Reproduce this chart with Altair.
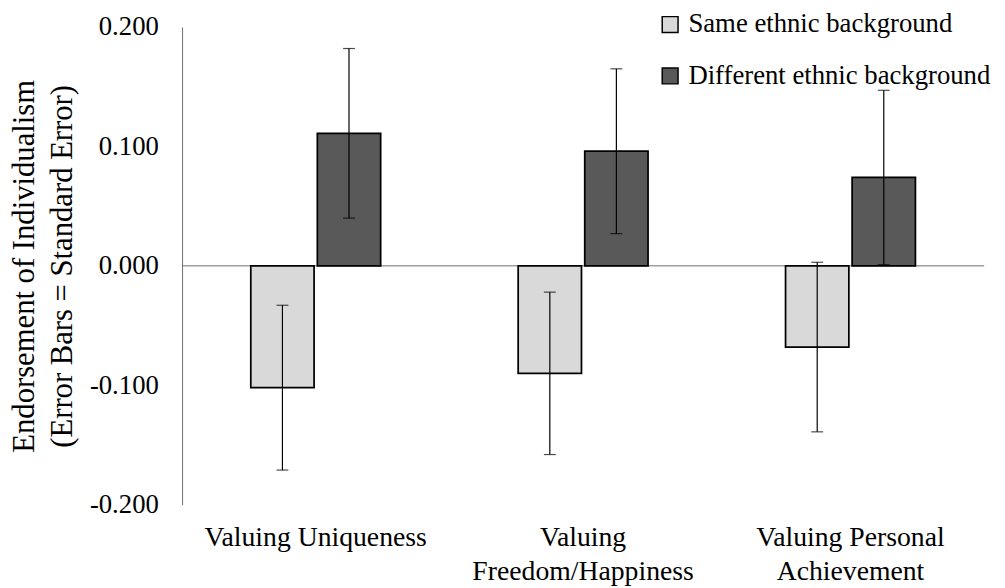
import altair as alt
import pandas as pd

categories = ["Valuing Uniqueness", "Valuing|Freedom/Happiness", "Valuing Personal|Achievement"]
groups = ["Same ethnic background", "Different ethnic background"]
same_means = [-0.102, -0.090, -0.068]
same_se = [0.069, 0.068, 0.071]
diff_means = [0.111, 0.096, 0.074]
diff_se = [0.071, 0.069, 0.073]
fill_colors = ["#d9d9d9", "#595959"]
y_ticks = [-0.2, -0.1, 0.0, 0.1, 0.2]

rows = []
for i, c in enumerate(categories):
    rows.append(dict(cat=c, group=groups[0], mean=same_means[i], se=same_se[i]))
    rows.append(dict(cat=c, group=groups[1], mean=diff_means[i], se=diff_se[i]))
df = pd.DataFrame(rows)
df["lo"] = df["mean"] - df["se"]
df["hi"] = df["mean"] + df["se"]

FONT = "Liberation Serif"
W, H = 811, 483
AXIS_GRAY = "#6e6e6e"

x_enc = alt.X(
    "cat:N",
    sort=categories,
    scale=alt.Scale(paddingInner=0.5143, paddingOuter=0.257),
    axis=alt.Axis(
        title=None, labelAngle=0, domain=False, ticks=False, grid=False,
        labelPadding=19, labelFontSize=28, labelLineHeight=35, labelFont=FONT,
        labelColor="black", labelLimit=400,
        labelExpr="split(datum.label, '|')",
    ),
)
xo_enc = alt.XOffset("group:N", sort=groups, scale=alt.Scale(paddingInner=0.049, paddingOuter=0))
y_scale = alt.Scale(domain=[-0.2, 0.2], nice=False, zero=False)
y_axis = alt.Axis(
    values=y_ticks,
    labelExpr="(datum.value < 0 ? '-' : '') + format(abs(datum.value), '.3f')",
    grid=False, ticks=False, tickSize=0, domainColor=AXIS_GRAY, domainWidth=1,
    labelPadding=24, labelFontSize=27, labelFont=FONT, labelColor="black",
    title=["Endorsement of Individualism", "(Error Bars = Standard Error)"],
    titleFont=FONT, titleFontSize=31, titleFontWeight="normal", titleColor="black",
    titleLineHeight=38, titleAngle=270, titleAlign="center", titleBaseline="bottom",
    titleX=-143, titleY=H / 2,
)

base = alt.Chart(df)

bars = base.mark_bar(stroke="black", strokeWidth=1.75).encode(
    x=x_enc,
    xOffset=xo_enc,
    y=alt.Y("mean:Q", scale=y_scale, axis=y_axis),
    fill=alt.Fill(
        "group:N",
        scale=alt.Scale(domain=groups, range=fill_colors),
        legend=alt.Legend(
            title=None, orient="none", legendX=480, legendY=-16, direction="vertical",
            symbolType="square", symbolSize=256, symbolStrokeColor="black",
            symbolStrokeWidth=1.5, labelFontSize=27, labelFont=FONT, labelColor="black",
            rowPadding=24, labelOffset=5, labelLimit=400, padding=0,
        ),
    ),
)

zero_line = alt.Chart(pd.DataFrame({"z": [0.0]})).mark_rule(color=AXIS_GRAY, strokeWidth=1).encode(
    y=alt.Y("z:Q", scale=y_scale)
)

err = base.mark_rule(color="black", strokeWidth=1.2).encode(
    x=x_enc, xOffset=xo_enc, y=alt.Y("lo:Q", scale=y_scale), y2="hi:Q"
)
cap_lo = base.mark_tick(color="black", size=12, thickness=1.2).encode(
    x=x_enc, xOffset=xo_enc, y=alt.Y("lo:Q", scale=y_scale)
)
cap_hi = base.mark_tick(color="black", size=12, thickness=1.2).encode(
    x=x_enc, xOffset=xo_enc, y=alt.Y("hi:Q", scale=y_scale)
)

chart = alt.layer(zero_line, bars, err, cap_lo, cap_hi).properties(
    width=W, height=H,
    padding={"left": 176, "top": 16, "right": 13, "bottom": 81},
    autosize=alt.AutoSizeParams(type="none"),
    background="white",
).configure_view(stroke=None)

chart.save("out.html", embed_options={"renderer": "svg", "actions": False})
